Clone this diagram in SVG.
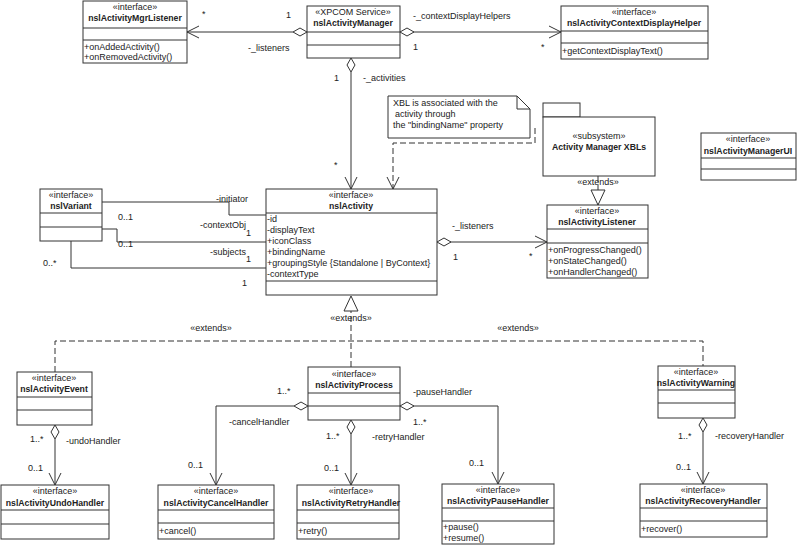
<svg xmlns="http://www.w3.org/2000/svg" width="800" height="547" viewBox="0 0 800 547">
<style>
text{font-family:"Liberation Sans",Arial,sans-serif;font-size:9px;fill:#222}
.b{font-weight:bold;font-size:8.7px}
.c{text-anchor:middle}
rect,.bx{fill:#fff;stroke:#333;stroke-width:1}
.ln{fill:none;stroke:#333;stroke-width:1}
.d{fill:none;stroke:#333;stroke-width:1;stroke-dasharray:6,3}
.dia{fill:#fff;stroke:#333}
</style>
<defs>
<marker id="oa" markerWidth="14" markerHeight="14" refX="13" refY="7" orient="auto" markerUnits="userSpaceOnUse"><path d="M1,1 L13,7 L1,13" fill="none" stroke="#333"/></marker>
<marker id="tri" markerWidth="18" markerHeight="18" refX="16" refY="8" orient="auto" markerUnits="userSpaceOnUse"><path d="M1,1 L16,8 L1,15 Z" fill="#fff" stroke="#333"/></marker>
</defs>
<g id="connectors">
<path class="ln" d="M293,32 H187" marker-end="url(#oa)"/><path class="dia" d="M307,32 l-7,-4 l-7,4 l7,4z"/>
<path class="ln" d="M413,32 H561" marker-end="url(#oa)"/><path class="dia" d="M400,32 l7,-4 l7,4 l-7,4z"/>
<path class="ln" d="M351,72 V189" marker-end="url(#oa)"/><path class="dia" d="M351,58 l4,7 l-4,7 l-4,-7z"/>
<path class="d" d="M535,128 V143 H393 V189" marker-end="url(#oa)"/>
<path class="d" d="M598,176 V205" marker-end="url(#tri)"/>
<path class="ln" d="M450,242 H547" marker-end="url(#oa)"/><path class="dia" d="M437,242 l7,-4 l7,4 l-7,4z"/>
<path class="ln" d="M102,202 H229 V215 H266"/>
<path class="ln" d="M102,229 H117 V242 H266"/>
<path class="ln" d="M71,241 V268 H266"/>
<path class="d" d="M351,367 V296" marker-end="url(#tri)"/>
<path class="d" d="M55,372 V341 H703 V366"/>
<path class="ln" d="M55,439 V485" marker-end="url(#oa)"/><path class="dia" d="M55,425 l4,7 l-4,7 l-4,-7z"/>
<path class="ln" d="M294,406 H216 V485" marker-end="url(#oa)"/><path class="dia" d="M308,406 l-7,-4 l-7,4 l7,4z"/>
<path class="ln" d="M351,434 V485" marker-end="url(#oa)"/><path class="dia" d="M351,420 l4,7 l-4,7 l-4,-7z"/>
<path class="ln" d="M413,406 H498 V484" marker-end="url(#oa)"/><path class="dia" d="M400,406 l7,-4 l7,4 l-7,4z"/>
<path class="ln" d="M703,432 V484" marker-end="url(#oa)"/><path class="dia" d="M703,418 l4,7 l-4,7 l-4,-7z"/>
<text x="202" y="17">*</text><text x="286" y="18">1</text><text x="248" y="51">-_listeners</text>
<text x="413" y="19">-_contextDisplayHelpers</text><text x="413" y="50">1</text><text x="541" y="50">*</text>
<text x="334" y="81">1</text><text x="363" y="81">-_activities</text><text x="334" y="168">*</text>
<text class="c" x="598" y="185">«extends»</text>
<text x="452" y="229">-_listeners</text><text x="453" y="260">1</text><text x="529" y="259">*</text>
<text x="216" y="202">-initiator</text><text x="118" y="220">0..1</text><text x="200" y="228">-contextObj</text><text x="246" y="236">1</text><text x="118" y="247">0..1</text>
<text x="210" y="255">-subjects</text><text x="246" y="262">1</text><text x="43" y="266">0..*</text><text x="242" y="286">1</text>
<text class="c" x="351" y="321">«extends»</text><text class="c" x="211" y="331">«extends»</text><text class="c" x="518" y="331">«extends»</text>
<text x="30" y="442">1..*</text><text x="66" y="444">-undoHandler</text><text x="28" y="471">0..1</text>
<text x="277" y="394">1..*</text><text x="229" y="425">-cancelHandler</text><text x="188" y="468">0..1</text>
<text x="326" y="439">1..*</text><text x="372" y="440">-retryHandler</text><text x="324" y="471">0..1</text>
<text x="413" y="395">-pauseHandler</text><text x="413" y="425">1..*</text><text x="469" y="466">0..1</text>
<text x="678" y="439">1..*</text><text x="715" y="439">-recoveryHandler</text><text x="676" y="470">0..1</text>
</g>
<g id="nslActivityMgrListener"><rect x="83" y="1" width="104" height="62"/><path class="ln" d="M83,28H187M83,40H187"/>
<text class="c" x="135" y="10">«interface»</text><text class="c b" x="135" y="21">nslActivityMgrListener</text>
<text x="84" y="50">+onAddedActivity()</text><text x="84" y="60">+onRemovedActivity()</text></g>
<g id="nslActivityManager"><rect x="307" y="6" width="93" height="52"/><path class="ln" d="M307,32H400M307,45H400"/>
<text class="c" x="353" y="15">«XPCOM Service»</text><text class="c b" x="353" y="26">nslActivityManager</text></g>
<g id="nslActivityContextDisplayHelper"><rect x="561" y="6" width="147" height="53"/><path class="ln" d="M561,31H708M561,43H708"/>
<text class="c" x="634" y="15">«interface»</text><text class="c b" x="634" y="26">nslActivityContextDisplayHelper</text>
<text x="562" y="54">+getContextDisplayText()</text></g>
<g id="note"><path class="bx" d="M388,96 H517 L530,109 V138 H388 Z"/><path class="ln" d="M517,96 V109 H530"/>
<text x="393" y="106">XBL is associated with the</text><text x="395" y="117">activity through</text><text x="393" y="128">the "bindingName" property</text></g>
<g id="subsystem"><rect x="543" y="103" width="37" height="14"/><rect x="543" y="117" width="112" height="59"/>
<text class="c" x="599" y="139">«subsystem»</text><text class="c b" x="599" y="150">Activity Manager XBLs</text></g>
<g id="nslActivityManagerUI"><rect x="701" y="133" width="95" height="47"/><path class="ln" d="M701,158H796M701,169H796"/>
<text class="c" x="748" y="142">«interface»</text><text class="c b" x="748" y="154">nslActivityManagerUI</text></g>
<g id="nslVariant"><rect x="40" y="189" width="62" height="52"/><path class="ln" d="M40,213H102M40,227H102"/>
<text class="c" x="71" y="198">«interface»</text><text class="c b" x="71" y="209">nslVariant</text></g>
<g id="nslActivity"><rect x="266" y="189" width="171" height="106"/><path class="ln" d="M266,213H437M266,281H437"/>
<text class="c" x="351" y="198">«interface»</text><text class="c b" x="351" y="209">nslActivity</text>
<text x="267" y="222">-id</text><text x="267" y="233">-displayText</text><text x="267" y="244">+iconClass</text><text x="267" y="255">+bindingName</text><text x="267" y="266">+groupingStyle {Standalone | ByContext}</text><text x="267" y="277">-contextType</text></g>
<g id="nslActivityListener"><rect x="547" y="205" width="101" height="73"/><path class="ln" d="M547,229H648M547,243H648"/>
<text class="c" x="597" y="214">«interface»</text><text class="c b" x="597" y="225">nslActivityListener</text>
<text x="548" y="253">+onProgressChanged()</text><text x="548" y="264">+onStateChanged()</text><text x="548" y="275">+onHandlerChanged()</text></g>
<g id="nslActivityEvent"><rect x="17" y="372" width="75" height="53"/><path class="ln" d="M17,397H92M17,410H92"/>
<text class="c" x="54" y="381">«interface»</text><text class="c b" x="54" y="392">nslActivityEvent</text></g>
<g id="nslActivityProcess"><rect x="308" y="367" width="92" height="53"/><path class="ln" d="M308,393H400M308,406H400"/>
<text class="c" x="354" y="377">«interface»</text><text class="c b" x="354" y="388">nslActivityProcess</text></g>
<g id="nslActivityWarning"><rect x="658" y="366" width="77" height="52"/><path class="ln" d="M658,390H735M658,403H735"/>
<text class="c" x="696" y="375">«interface»</text><text class="c b" x="696" y="386">nslActivityWarning</text></g>
<g id="nslActivityUndoHandler"><rect x="1" y="485" width="108" height="54"/><path class="ln" d="M1,510H109M1,524H109"/>
<text class="c" x="55" y="494">«interface»</text><text class="c b" x="55" y="506">nslActivityUndoHandler</text></g>
<g id="nslActivityCancelHandler"><rect x="158" y="485" width="116" height="54"/><path class="ln" d="M158,510H274M158,523H274"/>
<text class="c" x="216" y="494">«interface»</text><text class="c b" x="216" y="506">nslActivityCancelHandler</text><text x="159" y="534">+cancel()</text></g>
<g id="nslActivityRetryHandler"><rect x="297" y="485" width="102" height="54"/><path class="ln" d="M297,510H399M297,523H399"/>
<text class="c" x="351" y="494">«interface»</text><text class="c b" x="351" y="506">nslActivityRetryHandler</text><text x="298" y="534">+retry()</text></g>
<g id="nslActivityPauseHandler"><rect x="442" y="484" width="112" height="60"/><path class="ln" d="M442,508H554M442,521H554"/>
<text class="c" x="498" y="493">«interface»</text><text class="c b" x="498" y="504">nslActivityPauseHandler</text><text x="443" y="530">+pause()</text><text x="443" y="541">+resume()</text></g>
<g id="nslActivityRecoveryHandler"><rect x="640" y="484" width="127" height="53"/><path class="ln" d="M640,508H767M640,521H767"/>
<text class="c" x="703" y="493">«interface»</text><text class="c b" x="703" y="504">nslActivityRecoveryHandler</text><text x="641" y="532">+recover()</text></g>
</svg>
